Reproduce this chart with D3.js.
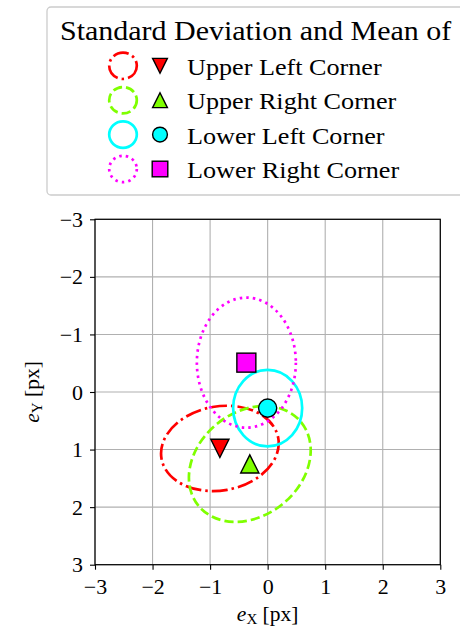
<!DOCTYPE html>
<html>
<head>
<meta charset="utf-8">
<script src="https://cdn.jsdelivr.net/npm/d3@7"></script>
<style>
  body { margin: 0; background: #fff; }
</style>
</head>
<body>
<div id="chart"></div>
<script>
// data
var names  = ["Upper Left Corner", "Upper Right Corner", "Lower Left Corner", "Lower Right Corner"];
var meanX  = [-0.83, -0.31, 0.00, -0.37];
var meanY  = [0.98, 1.25, 0.28, -0.51];
var semiA  = [1.03, 1.15, 0.60, 0.86];   // semi axis along the (rotated) x direction
var semiB  = [0.73, 0.90, 0.665, 1.13];  // semi axis along the (rotated) y direction
var tilt   = [-10, -39, 0, 0];           // degrees
var xTicks = [-3, -2, -1, 0, 1, 2, 3];
var yTicks = [-3, -2, -1, 0, 1, 2, 3];
var legendTitle = "Standard Deviation and Mean of";

// styles
var colors  = ["#ff0000", "#7fff00", "#00ffff", "#ff00ff"];
var dashes  = ["16 4 2.5 4", "9.25 4", null, "2.5 4.1"];
var shapes  = ["down", "up", "circle", "square"];
var serif   = "'Liberation Serif', 'Times New Roman', serif";
var stretch = 1.09;   // widen the serif face toward Computer Modern widths

var width = 460, height = 637;
var plot = {left: 95, right: 440.3, top: 219.3, bottom: 564.7};

var svg = d3.select("#chart").append("svg")
    .attr("width", width)
    .attr("height", height);

var x = d3.scaleLinear().domain([-3, 3]).range([plot.left, plot.right]);
var y = d3.scaleLinear().domain([-3, 3]).range([plot.top, plot.bottom]);

function fmt(v) { return v < 0 ? "\u2212" + Math.abs(v) : String(v); }

function widen(sel, k) {
    sel.each(function() {
        var len = this.getComputedTextLength();
        d3.select(this).attr("textLength", len * k).attr("lengthAdjust", "spacingAndGlyphs");
    });
}

function marker(g, shape, cx, cy, s, color) {
    if (shape === "circle") {
        g.append("circle").attr("cx", cx).attr("cy", cy).attr("r", s)
            .attr("fill", color).attr("stroke", "#000").attr("stroke-width", 1.4);
    } else if (shape === "square") {
        g.append("rect").attr("x", cx - s).attr("y", cy - s).attr("width", 2 * s).attr("height", 2 * s)
            .attr("fill", color).attr("stroke", "#000").attr("stroke-width", 1.4);
    } else {
        var p = shape === "down"
            ? [[cx - s, cy - s], [cx + s, cy - s], [cx, cy + s]]
            : [[cx, cy - s], [cx - s, cy + s], [cx + s, cy + s]];
        g.append("path").attr("d", "M" + p.join("L") + "Z")
            .attr("fill", color).attr("stroke", "#000").attr("stroke-width", 1.4)
            .attr("stroke-linejoin", "miter");
    }
}

// grid
var grid = svg.append("g");
grid.selectAll(".gx").data(xTicks).enter().append("line")
    .attr("x1", function(d) { return x(d); }).attr("x2", function(d) { return x(d); })
    .attr("y1", plot.top).attr("y2", plot.bottom)
    .attr("stroke", "#b0b0b0").attr("stroke-width", 1.1);
grid.selectAll(".gy").data(yTicks).enter().append("line")
    .attr("y1", function(d) { return y(d); }).attr("y2", function(d) { return y(d); })
    .attr("x1", plot.left).attr("x2", plot.right)
    .attr("stroke", "#b0b0b0").attr("stroke-width", 1.1);

// ellipses
var idx = d3.range(names.length);
svg.append("g").selectAll("ellipse").data(idx).enter().append("ellipse")
    .attr("cx", function(i) { return x(meanX[i]); })
    .attr("cy", function(i) { return y(meanY[i]); })
    .attr("rx", function(i) { return x(semiA[i]) - x(0); })
    .attr("ry", function(i) { return y(semiB[i]) - y(0); })
    .attr("transform", function(i) { return "rotate(" + tilt[i] + "," + x(meanX[i]) + "," + y(meanY[i]) + ")"; })
    .attr("fill", "none")
    .attr("stroke", function(i) { return colors[i]; })
    .attr("stroke-width", 2.7)
    .attr("stroke-dasharray", function(i) { return dashes[i]; });

// means
var mk = svg.append("g");
idx.forEach(function(i) {
    marker(mk, shapes[i], x(meanX[i]), y(meanY[i]), shapes[i] === "square" ? 9.5 : 9.1, colors[i]);
});

// axes
var xAxis = d3.axisBottom(x).tickValues(xTicks).tickSize(5).tickPadding(6).tickFormat(fmt);
var yAxis = d3.axisLeft(y).tickValues(yTicks).tickSize(5).tickPadding(7).tickFormat(fmt);

var gx = svg.append("g").attr("transform", "translate(0," + plot.bottom + ")").call(xAxis);
var gy = svg.append("g").attr("transform", "translate(" + plot.left + ",0)").call(yAxis);
[gx, gy].forEach(function(g) {
    g.select(".domain").remove();
    g.selectAll(".tick line").attr("stroke", "#000").attr("stroke-width", 1.1);
    g.selectAll(".tick text").attr("font-size", 20.7)
        .style("font-family", serif).attr("fill", "#000");
});
gy.selectAll(".tick text").attr("dy", "0.34em").call(widen, 1.06);
gx.selectAll(".tick text").attr("dy", "0.9em").call(widen, 1.06);

// frame
svg.append("rect")
    .attr("x", plot.left).attr("y", plot.top)
    .attr("width", plot.right - plot.left).attr("height", plot.bottom - plot.top)
    .attr("fill", "none").attr("stroke", "#000").attr("stroke-width", 1.2);

// axis labels
var xl = svg.append("text").attr("x", x(0)).attr("y", 621).attr("text-anchor", "middle")
    .attr("font-size", 21.5).style("font-family", serif);
xl.append("tspan").attr("font-style", "italic").text("e");
xl.append("tspan").attr("font-size", 15).attr("dy", 3).text("X");
xl.append("tspan").attr("dy", -3).text("\u00a0[px]");

var yl = svg.append("text")
    .attr("transform", "translate(38.5," + y(0) + ") rotate(-90)")
    .attr("text-anchor", "middle").attr("font-size", 21.5).style("font-family", serif);
yl.append("tspan").attr("font-style", "italic").text("e");
yl.append("tspan").attr("font-size", 15).attr("dy", 3).text("Y");
yl.append("tspan").attr("dy", -3).text("\u00a0[px]");

// legend
var lg = svg.append("g");
lg.append("rect")
    .attr("x", 47).attr("y", 7).attr("width", 430).attr("height", 188)
    .attr("rx", 4).attr("fill", "#fff").attr("fill-opacity", 0.85)
    .attr("stroke", "#cccccc").attr("stroke-width", 1.3);

lg.append("text").attr("x", 60).attr("y", 39.5).attr("font-size", 27.5)
    .style("font-family", serif)
    .text(legendTitle).call(widen, stretch);

idx.forEach(function(i) {
    var base = 75 + i * 34.4;
    var cy = base - 9.2;
    lg.append("ellipse")
        .attr("cx", 123).attr("cy", cy).attr("rx", 13.8).attr("ry", 13.2)
        .attr("fill", "none").attr("stroke", colors[i]).attr("stroke-width", 2.7)
        .attr("stroke-dasharray", dashes[i]);
    marker(lg, shapes[i], 160, cy, shapes[i] === "square" ? 7.8 : 7.4, colors[i]);
    lg.append("text").attr("x", 187).attr("y", base).attr("font-size", 24)
        .style("font-family", serif)
        .text(names[i]).call(widen, stretch);
});
</script>
</body>
</html>
